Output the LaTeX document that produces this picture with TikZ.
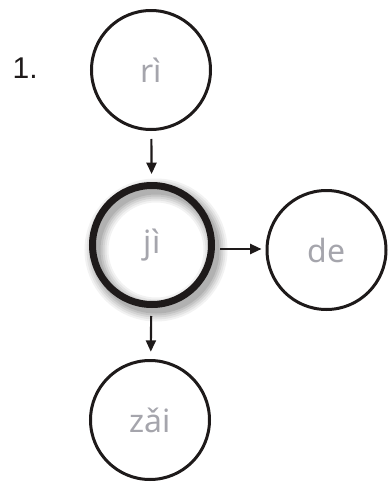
\documentclass[tikz,border=0pt]{standalone}
\usepackage{fontspec}
\setmainfont{Noto Sans}
\newfontfamily\numfont{Liberation Sans}
\usetikzlibrary{arrows.meta}
\definecolor{labelgray}{RGB}{165,165,172}
\definecolor{ringblack}{RGB}{30,26,26}
\tikzset{
  ring/.style={circle, draw=ringblack, line width=2.25pt, minimum size=89.25pt, inner sep=0pt,
    font=\fontsize{24}{26}\selectfont, text=labelgray},
  thickring/.style={ring, line width=5.25pt},
  arr/.style={draw=ringblack, line width=1.6pt, -{Triangle[length=8.5pt,width=7.5pt]}},
}
\begin{document}
\begin{tikzpicture}[x=0.75pt,y=-0.75pt]
\useasboundingbox (0,0) rectangle (388,483);
% shadow of the highlighted ring
\foreach \w/\o in {24/0.05,20/0.06,16/0.07,12/0.08,8/0.09} {
  \draw[black, opacity=\o, line width=\w*0.75pt] (156,250) circle (59.5);
}
\node[ring] (ri) at (151,70) {rì};
\node[thickring] (ji) at (152,245) {jì};
\node[ring] (de) at (326.5,250) {de};
\node[ring] (zai) at (150,420) {zǎi};
\node[font=\numfont\fontsize{22.5}{24}\selectfont, text=ringblack, anchor=west] (num) at (8,68) {1.};
\draw[arr, shorten <=6pt, shorten >=6pt] (ri) -- (ji);
\draw[arr, shorten <=6pt, shorten >=5.5pt] (ji) -- (zai);
\draw[arr, shorten <=4pt, shorten >=3pt] (ji.east |- 0,249) -- (de.west |- 0,249);
\end{tikzpicture}
\end{document}
